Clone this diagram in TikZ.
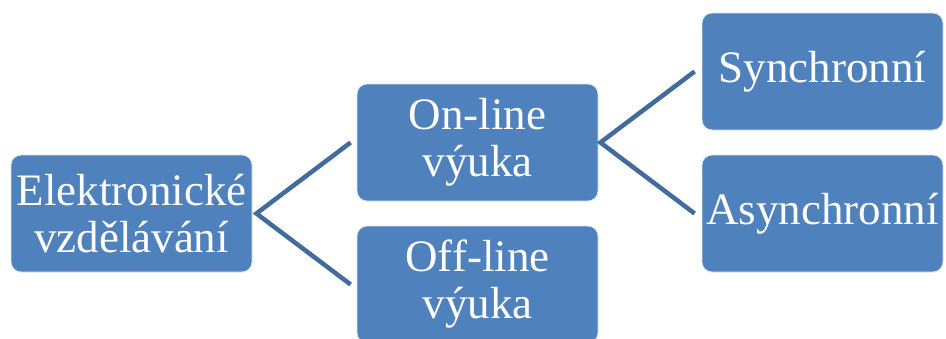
\documentclass[tikz,border=0pt]{standalone}
\usepackage{fontspec}
\setmainfont{Liberation Serif}
\definecolor{boxblue}{RGB}{79,129,189}
\definecolor{linkblue}{RGB}{65,106,158}
\begin{document}
\begin{tikzpicture}[x=1pt,y=-1pt,
  box/.style={draw=white!80!boxblue, line width=0.8pt, fill=boxblue, rounded corners=10pt,
    minimum width=241pt, minimum height=117pt, text=white, align=center,
    font=\fontsize{45}{47}\selectfont, inner sep=0pt},
  link/.style={draw=linkblue, line width=4.5pt, line join=miter}]
\useasboundingbox (0,0) rectangle (946,338);
\node[box] (e) at (131.5,213.5) {Elektronické\\vzdělávání};
\node[box] (on) at (477.5,142.5) {On-line\\výuka};
\node[box] (off) at (477.5,284.5) {Off-line\\výuka};
\node[box] (sy) at (822.5,71.5) {Synchronní};
\node[box] (as) at (822.5,213.5) {Asynchronní};
\coordinate (ej) at ([xshift=4pt]e.east);
\coordinate (onj) at ([xshift=2pt]on.east);
\draw[link] ([xshift=-6pt]on.west) -- (ej) -- ([xshift=-6pt]off.west);
\draw[link] ([xshift=-7pt]sy.west) -- (onj) -- ([xshift=-7pt]as.west);
\end{tikzpicture}
\end{document}
